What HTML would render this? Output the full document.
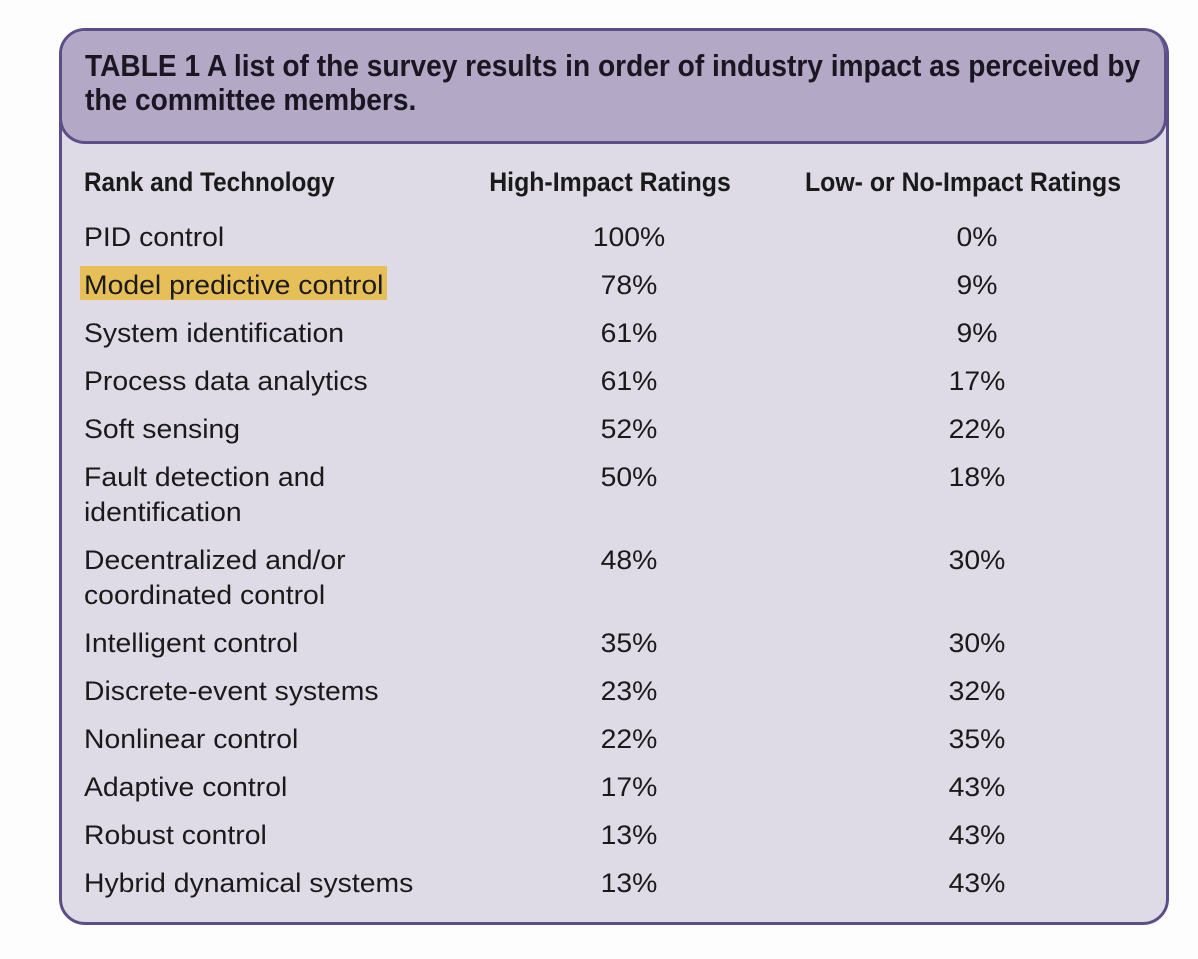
<!DOCTYPE html>
<html><head><meta charset="utf-8"><style>
body{margin:0;width:1198px;height:959px;background:#fdfdfe;position:relative;overflow:hidden;font-family:"Liberation Sans",sans-serif;color:#1a1a1a}
#box{position:absolute;left:59px;top:28px;width:1104px;height:891px;border:3px solid #5c4f88;border-radius:26px;background:#dedbe6;overflow:hidden}
#hdr{position:absolute;left:-3px;top:-3px;width:1108px;height:116px;background:#b3a9c6;border:3px solid #5c4f88;border-top:none;border-radius:26px;box-sizing:border-box}
.cond{font-family:"Liberation Sans",sans-serif;font-weight:bold;position:absolute;white-space:nowrap;transform-origin:left top}
.t{position:absolute;font-size:27px;white-space:nowrap;line-height:35px;transform:scaleX(1.05);transform-origin:left top}
.c{transform:translateX(-50%) scaleX(1.05);transform-origin:center top}
.hc{transform:translateX(-50%) scaleX(.92);transform-origin:center top}
#hl{position:absolute;left:80px;top:266px;width:307px;height:34px;background:#e6bf58}
</style></head><body>
<div id="box"><div id="hdr"></div></div>
<div class="cond" style="left:85px;top:49px;font-size:31px;line-height:34px;color:#1c1622;transform:scaleX(.907)">TABLE 1 A list of the survey results in order of industry impact as perceived by<br>the committee members.</div>
<div id="hl"></div>
<div class="cond" style="left:84px;top:167px;font-size:27px;transform:scaleX(.9)">Rank and Technology</div>
<div class="cond hc" style="left:610px;top:167px;font-size:27px">High-Impact Ratings</div>
<div class="cond hc" style="left:963px;top:167px;font-size:27px">Low- or No-Impact Ratings</div>
<div id="rows"></div>
<script>
const techs=["PID control","Model predictive control","System identification","Process data analytics","Soft sensing","Fault detection and|identification","Decentralized and/or|coordinated control","Intelligent control","Discrete-event systems","Nonlinear control","Adaptive control","Robust control","Hybrid dynamical systems"];
const high=[100,78,61,61,52,50,48,35,23,22,17,13,13];
const low=[0,9,9,17,22,18,30,30,32,35,43,43,43];
const rows=document.getElementById('rows');
let y=220;
techs.forEach((t,i)=>{
  const parts=t.split('|');
  const a=document.createElement('div');a.className='t';
  
  
  a.style.left='84px';a.style.top=y+'px';a.innerHTML=parts.join('<br>');
  const h=document.createElement('div');h.className='t c';
  
  
  h.style.left='629px';h.style.top=y+'px';h.textContent=high[i]+'%';
  const l=document.createElement('div');l.className='t c';
  
  
  l.style.left='977px';l.style.top=y+'px';l.textContent=low[i]+'%';
  rows.append(a,h,l);
  y+= parts.length>1?83:48;
});
</script>
</body></html>
